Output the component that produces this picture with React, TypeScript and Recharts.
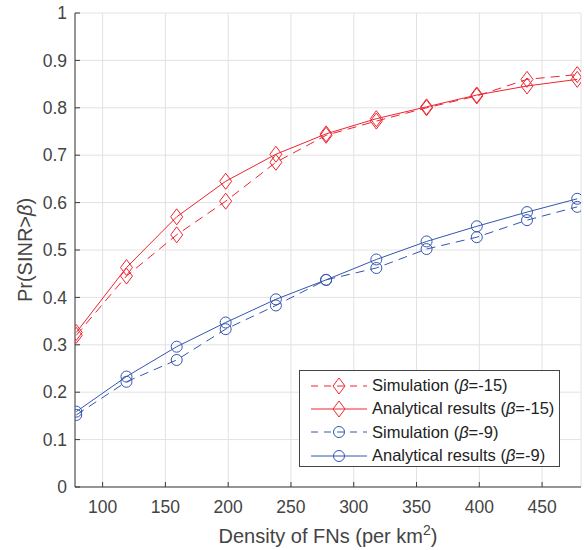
import React from "react";
import { LineChart, Line, XAxis, YAxis, CartesianGrid, Label } from "recharts";

const density = [79, 119, 159, 198, 238, 278, 318, 358, 398, 438, 478];
const simB15 = [0.32, 0.445, 0.532, 0.603, 0.685, 0.742, 0.772, 0.8, 0.825, 0.86, 0.87];
const anaB15 = [0.326, 0.463, 0.57, 0.645, 0.702, 0.745, 0.777, 0.802, 0.827, 0.846, 0.86];
const simB9 = [0.152, 0.222, 0.268, 0.333, 0.383, 0.437, 0.462, 0.502, 0.527, 0.563, 0.591];
const anaB9 = [0.159, 0.233, 0.296, 0.347, 0.396, 0.437, 0.48, 0.518, 0.55, 0.58, 0.608];

const xTicks = [100, 150, 200, 250, 300, 350, 400, 450];
const yTicks = [0, 0.1, 0.2, 0.3, 0.4, 0.5, 0.6, 0.7, 0.8, 0.9, 1];

const RED = "#ee2530";
const BLUE = "#3556b0";
const FONT = "'Liberation Sans', Arial, sans-serif";
const AXIS = "#3a3a3a";

const data = density.map((x, i) => ({
  x,
  simB15: simB15[i],
  anaB15: anaB15[i],
  simB9: simB9[i],
  anaB9: anaB9[i],
}));

const Diamond = ({ cx, cy, color }: { cx: number; cy: number; color: string }) => (
  <path
    d={`M${cx},${cy - 8}L${cx + 6},${cy}L${cx},${cy + 8}L${cx - 6},${cy}Z`}
    fill="none"
    stroke={color}
    strokeWidth={1}
  />
);

const Circle = ({ cx, cy, color }: { cx: number; cy: number; color: string }) => (
  <circle cx={cx} cy={cy} r={5.5} fill="none" stroke={color} strokeWidth={1} />
);

const series = [
  { key: "simB15", name: "Simulation", beta: "-15", color: RED, dash: "9 6", shape: "diamond" },
  { key: "anaB15", name: "Analytical results", beta: "-15", color: RED, dash: undefined, shape: "diamond" },
  { key: "simB9", name: "Simulation", beta: "-9", color: BLUE, dash: "9 6", shape: "circle" },
  { key: "anaB9", name: "Analytical results", beta: "-9", color: BLUE, dash: undefined, shape: "circle" },
];

const tickStyle = { fontSize: 17.5, fill: "#444", fontFamily: FONT };

const LegendBox = () => (
  <div
    style={{
      position: "absolute",
      left: 299,
      top: 370,
      width: 261,
      height: 97,
      border: "1px solid #444",
      background: "#fff",
      fontFamily: FONT,
      fontSize: 16.5,
      color: "#222",
      boxSizing: "border-box",
      paddingTop: 3,
    }}
  >
    {series.map((s) => (
      <div key={s.key} style={{ display: "flex", alignItems: "center", height: 23.3 }}>
        <svg width={72} height={20} style={{ flexShrink: 0 }}>
          <line x1={11} y1={10} x2={67} y2={10} stroke={s.color} strokeDasharray={s.dash ? "7 6" : undefined} />
          {s.shape === "diamond" ? (
            <Diamond cx={39} cy={10} color={s.color} />
          ) : (
            <Circle cx={39} cy={10} color={s.color} />
          )}
        </svg>
        <span style={{ whiteSpace: "nowrap" }}>
          {s.name} (<i>β</i>={s.beta})
        </span>
      </div>
    ))}
  </div>
);

export default function App() {
  return (
    <div style={{ position: "absolute", left: 0, top: 0, width: 584, height: 550, background: "#fff" }}>
      <LineChart
        width={584}
        height={550}
        data={data}
        margin={{ top: 13, right: 3, bottom: 0, left: 0 }}
      >
        <CartesianGrid stroke="#e2e2e2" strokeWidth={1} />
        <XAxis
          dataKey="x"
          type="number"
          domain={[78, 481]}
          ticks={xTicks}
          height={63}
          tickSize={-5}
          tickMargin={19}
          tick={tickStyle}
          stroke={AXIS}
          allowDataOverflow
        >
          <Label
            content={() => (
              <text x={328} y={543} textAnchor="middle" fontSize={20} fill="#444" fontFamily={FONT}>
                Density of FNs (per km
                <tspan dy={-8} fontSize={14}>2</tspan>
                <tspan dy={8}>)</tspan>
              </text>
            )}
          />
        </XAxis>
        <XAxis
          xAxisId="top"
          orientation="top"
          dataKey="x"
          type="number"
          domain={[78, 481]}
          ticks={xTicks}
          height={0}
          tickSize={-5}
          tickFormatter={() => ""}
          stroke={AXIS}
          allowDataOverflow
        />
        <YAxis
          type="number"
          domain={[0, 1]}
          ticks={yTicks}
          width={75}
          tickSize={-5}
          tickMargin={13}
          tick={tickStyle}
          stroke={AXIS}
        >
          <Label
            content={() => (
              <text
                x={25}
                y={250}
                textAnchor="middle"
                dominantBaseline="central"
                transform="rotate(-90 25 250)"
                fontSize={20}
                fill="#444"
                fontFamily={FONT}
              >
                Pr(SINR&gt;<tspan fontStyle="italic">β</tspan>)
              </text>
            )}
          />
        </YAxis>
        <YAxis
          yAxisId="right"
          orientation="right"
          type="number"
          domain={[0, 1]}
          ticks={yTicks}
          width={0}
          tickSize={-5}
          tickFormatter={() => ""}
          stroke={AXIS}
        />
        {series.map((s) => (
          <Line
            key={s.key}
            dataKey={s.key}
            type="linear"
            stroke={s.color}
            strokeWidth={1}
            strokeDasharray={s.dash}
            isAnimationActive={false}
            dot={(p: any) =>
              s.shape === "diamond" ? (
                <Diamond key={`${s.key}-${p.index}`} cx={p.cx} cy={p.cy} color={s.color} />
              ) : (
                <Circle key={`${s.key}-${p.index}`} cx={p.cx} cy={p.cy} color={s.color} />
              )
            }
            activeDot={false}
          />
        ))}
      </LineChart>
      <LegendBox />
    </div>
  );
}
